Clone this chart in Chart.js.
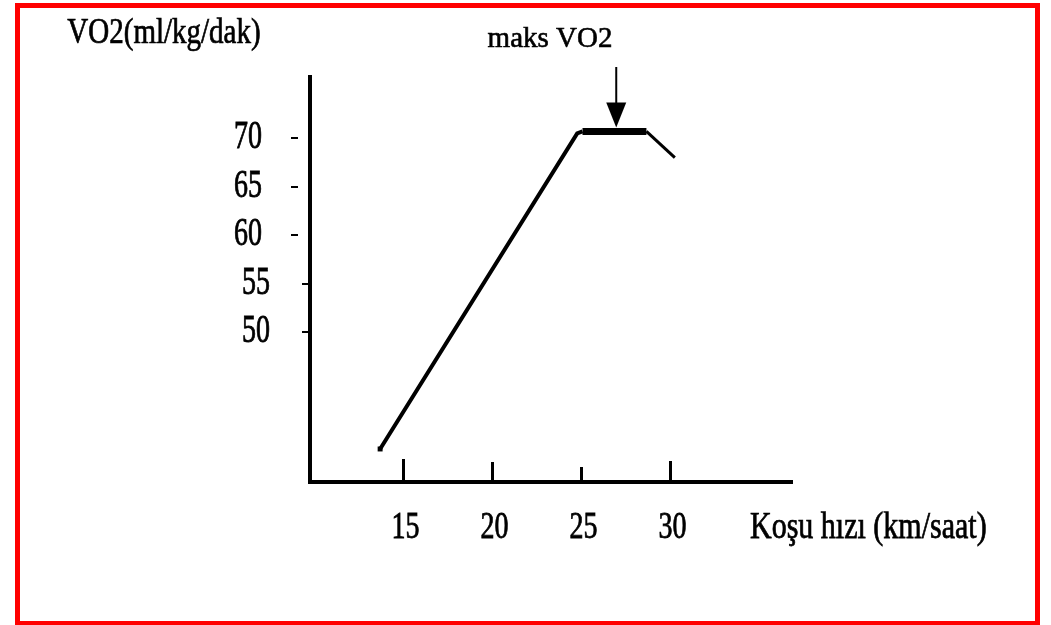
<!DOCTYPE html>
<html>
<head>
<meta charset="utf-8">
<script src="https://cdn.jsdelivr.net/npm/chart.js@4.4.1/dist/chart.umd.min.js"></script>
<style>
  html, body { margin: 0; padding: 0; background: #fff; }
  #frame {
    position: absolute; left: 15px; top: 3px; width: 1025px; height: 622px;
    box-sizing: border-box; border: 5px solid #ff0000; border-bottom-width: 4px;
  }
  #chart { position: absolute; left: 0; top: 0; }
</style>
</head>
<body>
<div id="frame"></div>
<canvas id="chart" width="1051" height="625"></canvas>
<script>
// koşu hızı (km/saat) ve VO2 (ml/kg/dak)
const speeds = [13.7, 24.8, 25.1, 28.7, 30.3];
const vo2 = [38.0, 70.5, 70.7, 70.7, 68.0];
const xTicks = [15, 20, 25, 30];
const yTicks = [50, 55, 60, 65, 70];
const peakSpeed = 27.0;
const peakVo2 = 70.7;

const yTitle = 'VO2(ml/kg/dak)';
const xTitle = 'Koşu hızı (km/saat)';
const peakLabel = 'maks VO2';

const FONT = "'Liberation Serif', 'Times New Roman', serif";
const xTickLen = [21, 18, 13, 19];
const detachedYTicks = [60, 65, 70];

// the original scan has tall, narrow lettering: draw text stretched vertically
function tallText(ctx, text, x, y, size, stretch, align) {
  ctx.save();
  ctx.font = size + 'px ' + FONT;
  ctx.textAlign = align;
  ctx.textBaseline = 'alphabetic';
  ctx.translate(x, y);
  ctx.scale(1, stretch);
  ctx.lineWidth = 0.6;
  ctx.fillText(text, 0, 0);
  ctx.strokeText(text, 0, 0);
  ctx.restore();
}

const drawExtras = {
  id: 'drawExtras',
  afterDraw(chart) {
    const { ctx, chartArea, scales: { x, y } } = chart;
    ctx.save();
    ctx.strokeStyle = '#000';
    ctx.fillStyle = '#000';

    // x tick marks (upward from the axis) and labels
    ctx.lineWidth = 3;
    x.ticks.forEach((t, i) => {
      const px = Math.round(x.getPixelForValue(t.value)) + 0.5;
      ctx.beginPath();
      ctx.moveTo(px, chartArea.bottom - 2);
      ctx.lineTo(px, chartArea.bottom - 2 - xTickLen[i]);
      ctx.stroke();
      tallText(ctx, String(t.value), px + 2, chartArea.bottom + 56, 28, 1.35, 'center');
    });

    // y tick marks and labels
    ctx.lineWidth = 2;
    y.ticks.forEach(t => {
      const py = Math.round(y.getPixelForValue(t.value));
      const detached = detachedYTicks.includes(t.value);
      ctx.beginPath();
      if (detached) {
        ctx.moveTo(chartArea.left - 19, py);
        ctx.lineTo(chartArea.left - 12, py);
      } else {
        ctx.moveTo(chartArea.left - 8, py);
        ctx.lineTo(chartArea.left, py);
      }
      ctx.stroke();
      tallText(ctx, String(t.value), chartArea.left - (detached ? 48 : 40), py + 10, 28, 1.4, 'right');
    });

    // arrow to max VO2
    const ax = x.getPixelForValue(peakSpeed);
    const tip = y.getPixelForValue(peakVo2) - 4;
    ctx.lineWidth = 2;
    ctx.beginPath();
    ctx.moveTo(ax, 67);
    ctx.lineTo(ax, tip - 20);
    ctx.stroke();
    ctx.beginPath();
    ctx.moveTo(ax - 10, tip - 25);
    ctx.lineTo(ax + 10, tip - 25);
    ctx.lineTo(ax, tip);
    ctx.closePath();
    ctx.fill();
    ctx.restore();

    // titles
    tallText(ctx, yTitle, 164, 43, 29, 1.2, 'center');
    tallText(ctx, peakLabel, 550, 47, 29, 1.05, 'center');
    tallText(ctx, xTitle, 750, 538, 30, 1.25, 'left');
  }
};

new Chart(document.getElementById('chart'), {
  type: 'line',
  data: {
    datasets: [{
      data: speeds.map((s, i) => ({ x: s, y: vo2[i] })),
      borderColor: '#000',
      borderWidth: 4,
      borderJoinStyle: 'miter',
      pointRadius: [3.5, 0, 0, 0, 0],
      pointStyle: 'rect',
      pointBackgroundColor: '#000',
      pointBorderWidth: 0,
      segment: {
        borderWidth: c => c.p0DataIndex === 2 ? 7 : (c.p0DataIndex === 3 ? 3 : 4)
      }
    }]
  },
  options: {
    responsive: false,
    animation: false,
    devicePixelRatio: 1,
    layout: { padding: { left: 0, right: 259, top: 77, bottom: 0 } },
    plugins: { legend: { display: false }, tooltip: { enabled: false } },
    scales: {
      x: {
        type: 'linear',
        min: 9.75,
        max: 36.9,
        afterBuildTicks: s => { s.ticks = xTicks.map(v => ({ value: v })); },
        afterFit: s => { s.height = 143; },
        grid: { display: false, drawTicks: false },
        border: { display: true, color: '#000', width: 4 },
        ticks: { display: false }
      },
      y: {
        type: 'linear',
        min: 34.6,
        max: 76.3,
        afterBuildTicks: s => { s.ticks = yTicks.map(v => ({ value: v })); },
        afterFit: s => { s.width = 310; },
        grid: { display: false, drawTicks: false },
        border: { display: true, color: '#000', width: 4 },
        ticks: { display: false }
      }
    }
  },
  plugins: [drawExtras]
});
</script>
</body>
</html>
